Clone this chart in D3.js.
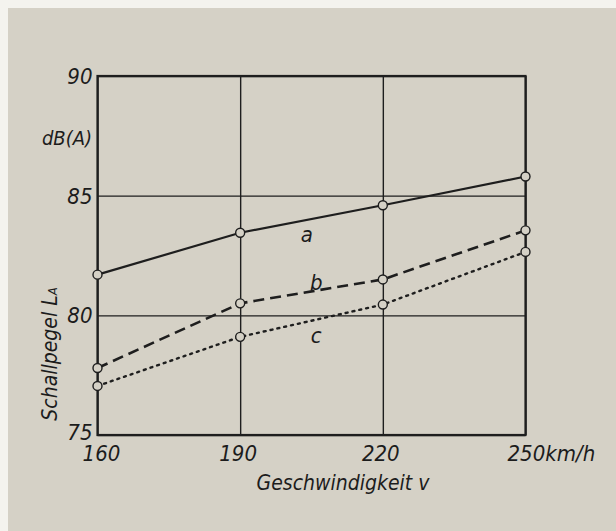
<!DOCTYPE html>
<html><head><meta charset="utf-8">
<script src="https://cdn.jsdelivr.net/npm/d3@7"></script>
<style>
html,body{margin:0;padding:0;background:#f4f3ee;}
svg{display:block;}
text{font-family:"Liberation Sans Narrow","DejaVu Sans Condensed","Liberation Sans",sans-serif;font-style:italic;fill:#1c1c1c;}
</style></head>
<body><svg id="c" width="616" height="531"></svg>
<script>
const speeds = [160, 190, 220, 250];
const seriesA = [81.7, 83.45, 84.6, 85.8];
const seriesB = [77.8, 80.5, 81.5, 83.55];
const seriesC = [77.05, 79.1, 80.45, 82.65];
const seriesNames = ["a", "b", "c"];
const yTicks = [75, 80, 85, 90];
const xTickLabels = ["160", "190", "220", "250km/h"];

const svg = d3.select("#c");
svg.append("rect").attr("x", 8).attr("y", 8).attr("width", 608).attr("height", 523).attr("fill", "#d5d1c6");

const x = d3.scaleLinear().domain([160, 250]).range([97.5, 525.5]);
const y = d3.scaleLinear().domain([75, 90]).range([435, 76]);
const ink = "#1e1e1e";

const g = svg.append("g");
// grid
g.append("g").attr("transform", `translate(0,${y(75)})`)
  .call(d3.axisBottom(x).tickValues(speeds).tickSize(-(y(75) - y(90))).tickFormat(""))
  .call(s => { s.select(".domain").remove(); s.selectAll("line").attr("stroke", ink).attr("stroke-width", 1.4); });
g.append("g").attr("transform", `translate(${x(160)},0)`)
  .call(d3.axisLeft(y).tickValues(yTicks).tickSize(-(x(250) - x(160))).tickFormat(""))
  .call(s => { s.select(".domain").remove(); s.selectAll("line").attr("stroke", ink).attr("stroke-width", 1.4); });
// frame
g.append("rect").attr("x", x(160)).attr("y", y(90)).attr("width", x(250) - x(160)).attr("height", y(75) - y(90))
  .attr("fill", "none").attr("stroke", ink).attr("stroke-width", 2.2);

// tick labels
g.selectAll(".yl").data(yTicks).join("text")
  .attr("x", x(160) - 5).attr("y", d => y(d) + 2).attr("text-anchor", "end")
  .attr("dominant-baseline", d => d === 75 ? "auto" : "middle")
  .attr("dy", d => d === 75 ? 3 : 0)
  .attr("font-size", 22).text(d => d);
g.selectAll(".xl").data(speeds).join("text")
  .attr("x", (d, i) => i === 3 ? x(d) - 18 : x(d) + (i === 0 ? 4 : -2))
  .attr("y", y(75) + 26).attr("text-anchor", (d, i) => i === 3 ? "start" : "middle")
  .attr("font-size", 22).text((d, i) => xTickLabels[i]);

// axis titles
g.append("text").attr("x", 92).attr("y", 145).attr("text-anchor", "end").attr("font-size", 20).text("dB(A)");
const yt = g.append("text").attr("transform", "translate(57,354) rotate(-90)").attr("text-anchor", "middle").attr("font-size", 21);
yt.append("tspan").text("Schallpegel L");
yt.append("tspan").attr("font-size", 13).attr("dy", 0).text("A");
g.append("text").attr("x", 343).attr("y", 490).attr("text-anchor", "middle").attr("font-size", 21).text("Geschwindigkeit  v");

// series
const data = [seriesA, seriesB, seriesC];
const styles = [
  { dash: null, w: 2.2 },
  { dash: "11,6", w: 2.6 },
  { dash: "2,5", w: 2.4 }
];
const line = d3.line().x((d, i) => x(speeds[i])).y(d => y(d));
data.forEach((s, k) => {
  g.append("path").datum(s).attr("d", line).attr("fill", "none")
    .attr("stroke", ink).attr("stroke-width", styles[k].w)
    .attr("stroke-dasharray", styles[k].dash).attr("stroke-linecap", k === 2 ? "round" : "butt");
});
data.forEach(s => {
  g.selectAll(null).data(s).join("circle")
    .attr("cx", (d, i) => x(speeds[i])).attr("cy", d => y(d)).attr("r", 4.5)
    .attr("fill", "#d5d1c6").attr("stroke", ink).attr("stroke-width", 1.4);
});
// series labels
const labelPos = [[204, 83.3], [206, 81.3], [206, 79.1]];
g.selectAll(".sl").data(seriesNames).join("text")
  .attr("x", (d, i) => x(labelPos[i][0])).attr("y", (d, i) => y(labelPos[i][1]))
  .attr("text-anchor", "middle").attr("dominant-baseline", "middle")
  .attr("font-size", 22).text(d => d);
</script></body></html>
